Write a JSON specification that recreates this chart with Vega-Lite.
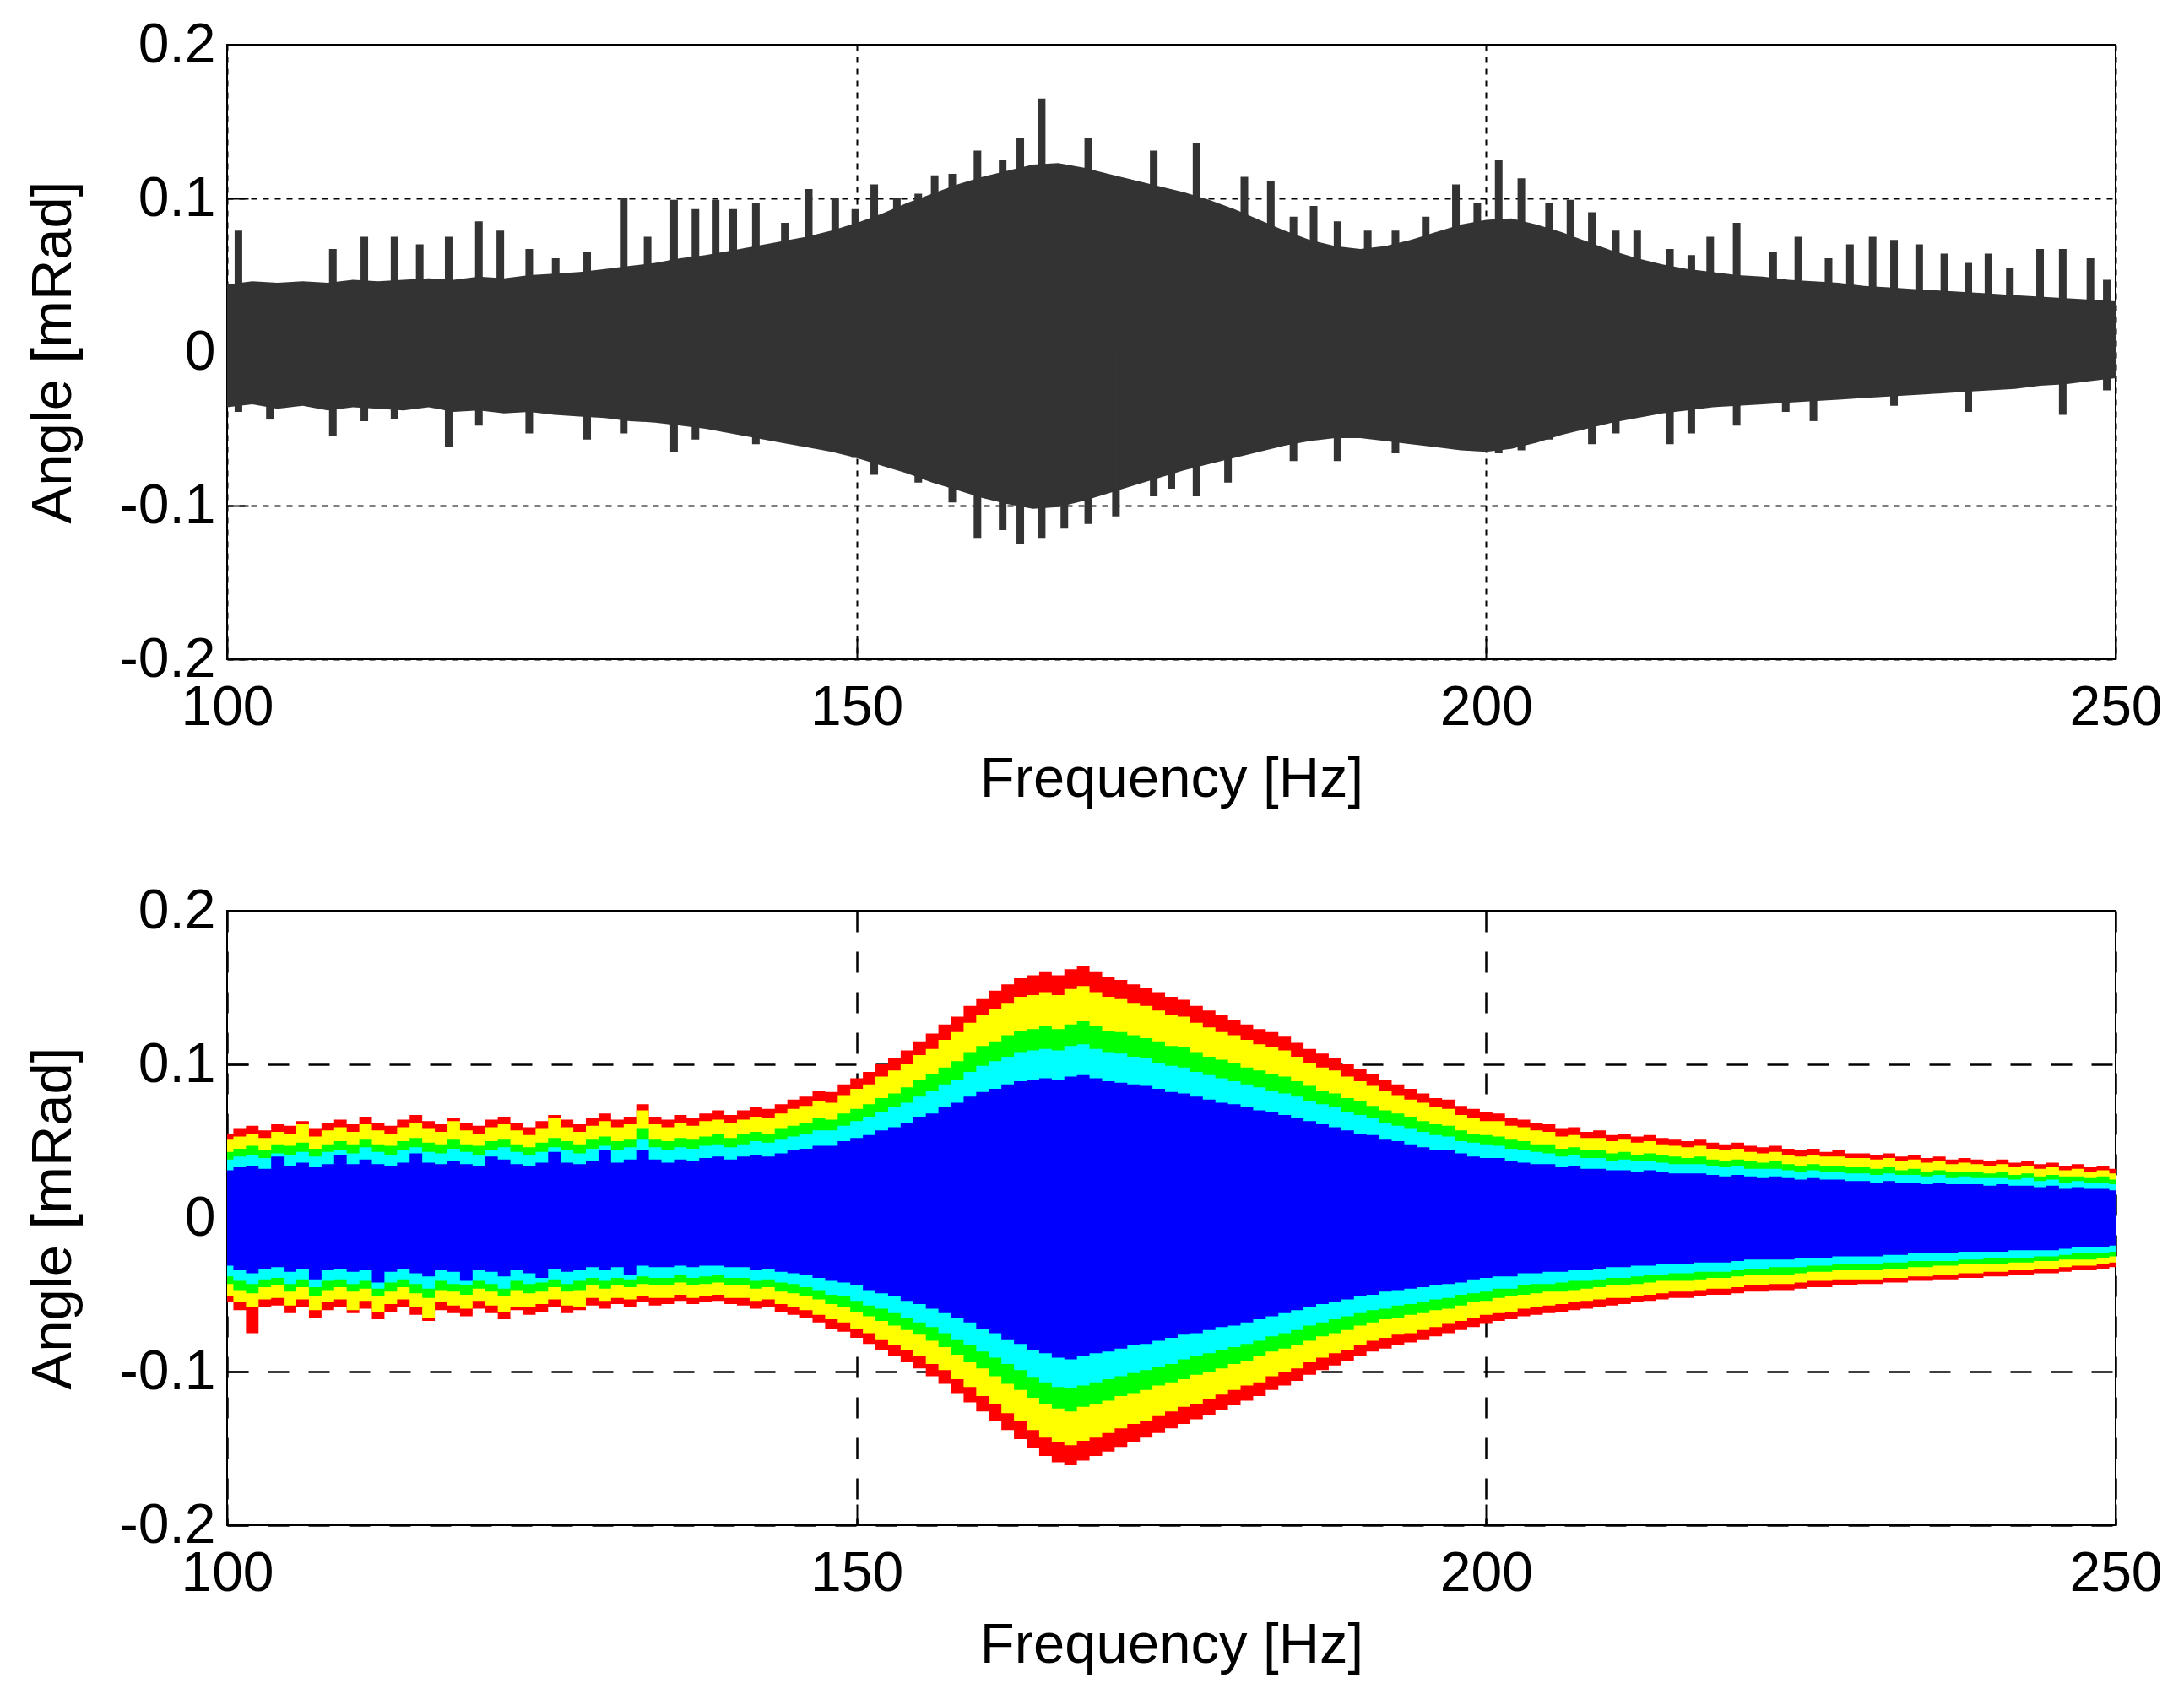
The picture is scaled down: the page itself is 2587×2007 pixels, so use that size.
{
"$schema": "https://vega.github.io/schema/vega-lite/v6.json",
"padding": {"left": 28, "top": 19, "right": 40, "bottom": 20},
"background": "white",
"config": {
 "font": "Liberation Sans",
 "view": {"stroke": "#000000", "strokeWidth": 2},
 "axis": {"labelFont": "Liberation Sans", "titleFont": "Liberation Sans", "labelFontSize": 66, "titleFontSize": 67, "titleFontWeight": "normal", "labelColor": "#000000", "titleColor": "#000000", "domain": false, "ticks": true, "tickSize": -25, "tickColor": "#000000", "tickWidth": 2, "gridColor": "#000000", "gridOpacity": 1, "labelOverlap": false}
},
"datasets": {
 "topEnv": [
  {"f":100,"hi":0.044,"lo":-0.036},{"f":102,"hi":0.046,"lo":-0.034},{"f":104,"hi":0.045,"lo":-0.037},{"f":106,"hi":0.046,"lo":-0.035},{"f":108,"hi":0.045,"lo":-0.038},{"f":110,"hi":0.047,"lo":-0.036},{"f":112,"hi":0.046,"lo":-0.037},{"f":114,"hi":0.047,"lo":-0.038},{"f":116,"hi":0.048,"lo":-0.036},{"f":118,"hi":0.047,"lo":-0.039},{"f":120,"hi":0.049,"lo":-0.038},{"f":122,"hi":0.048,"lo":-0.040},{"f":124,"hi":0.050,"lo":-0.039},{"f":126,"hi":0.051,"lo":-0.041},{"f":128,"hi":0.052,"lo":-0.042},{"f":130,"hi":0.054,"lo":-0.043},{"f":132,"hi":0.056,"lo":-0.045},{"f":134,"hi":0.058,"lo":-0.046},{"f":136,"hi":0.061,"lo":-0.048},{"f":138,"hi":0.063,"lo":-0.050},{"f":140,"hi":0.066,"lo":-0.053},{"f":142,"hi":0.069,"lo":-0.056},{"f":144,"hi":0.072,"lo":-0.059},{"f":146,"hi":0.075,"lo":-0.062},{"f":148,"hi":0.079,"lo":-0.065},{"f":150,"hi":0.084,"lo":-0.069},{"f":152,"hi":0.090,"lo":-0.074},{"f":154,"hi":0.097,"lo":-0.079},{"f":156,"hi":0.103,"lo":-0.085},{"f":158,"hi":0.109,"lo":-0.090},{"f":160,"hi":0.114,"lo":-0.095},{"f":162,"hi":0.118,"lo":-0.099},{"f":164,"hi":0.122,"lo":-0.102},{"f":166,"hi":0.123,"lo":-0.101},{"f":168,"hi":0.120,"lo":-0.097},{"f":170,"hi":0.116,"lo":-0.092},{"f":172,"hi":0.112,"lo":-0.087},{"f":174,"hi":0.108,"lo":-0.082},{"f":176,"hi":0.104,"lo":-0.077},{"f":178,"hi":0.099,"lo":-0.073},{"f":180,"hi":0.093,"lo":-0.069},{"f":182,"hi":0.086,"lo":-0.065},{"f":184,"hi":0.079,"lo":-0.061},{"f":186,"hi":0.073,"lo":-0.058},{"f":188,"hi":0.069,"lo":-0.056},{"f":190,"hi":0.067,"lo":-0.056},{"f":192,"hi":0.069,"lo":-0.058},{"f":194,"hi":0.073,"lo":-0.060},{"f":196,"hi":0.078,"lo":-0.062},{"f":198,"hi":0.083,"lo":-0.064},{"f":200,"hi":0.086,"lo":-0.065},{"f":202,"hi":0.087,"lo":-0.063},{"f":204,"hi":0.083,"lo":-0.059},{"f":206,"hi":0.078,"lo":-0.054},{"f":208,"hi":0.072,"lo":-0.050},{"f":210,"hi":0.066,"lo":-0.046},{"f":212,"hi":0.061,"lo":-0.043},{"f":214,"hi":0.057,"lo":-0.040},{"f":216,"hi":0.054,"lo":-0.038},{"f":218,"hi":0.052,"lo":-0.036},{"f":220,"hi":0.050,"lo":-0.035},{"f":222,"hi":0.049,"lo":-0.034},{"f":224,"hi":0.047,"lo":-0.033},{"f":226,"hi":0.046,"lo":-0.032},{"f":228,"hi":0.045,"lo":-0.031},{"f":230,"hi":0.043,"lo":-0.030},{"f":232,"hi":0.042,"lo":-0.029},{"f":234,"hi":0.041,"lo":-0.028},{"f":236,"hi":0.040,"lo":-0.027},{"f":238,"hi":0.039,"lo":-0.026},{"f":240,"hi":0.038,"lo":-0.025},{"f":242,"hi":0.037,"lo":-0.024},{"f":244,"hi":0.036,"lo":-0.022},{"f":246,"hi":0.035,"lo":-0.021},{"f":248,"hi":0.034,"lo":-0.019},{"f":250,"hi":0.033,"lo":-0.017}
 ],
 "topSpikes": [
  {"f":100.9,"hi":0.079,"lo":-0.039},{"f":103.4,"hi":0,"lo":-0.044},{"f":108.4,"hi":0.067,"lo":-0.055},{"f":110.9,"hi":0.075,"lo":-0.045},{"f":113.3,"hi":0.075,"lo":-0.044},{"f":115.3,"hi":0.070,"lo":0},{"f":117.6,"hi":0.075,"lo":-0.062},{"f":120.0,"hi":0.085,"lo":-0.048},{"f":121.7,"hi":0.079,"lo":0},{"f":124.0,"hi":0.067,"lo":-0.053},{"f":126.1,"hi":0.061,"lo":0},{"f":128.6,"hi":0.065,"lo":-0.057},{"f":131.5,"hi":0.100,"lo":-0.053},{"f":133.4,"hi":0.075,"lo":0},{"f":135.5,"hi":0.099,"lo":-0.065},{"f":137.2,"hi":0.093,"lo":-0.057},{"f":138.8,"hi":0.099,"lo":0},{"f":140.2,"hi":0.093,"lo":0},{"f":142.0,"hi":0.097,"lo":-0.060},{"f":144.3,"hi":0.084,"lo":0},{"f":146.2,"hi":0.106,"lo":-0.062},{"f":148.3,"hi":0.100,"lo":0},{"f":149.9,"hi":0.093,"lo":-0.069},{"f":151.4,"hi":0.109,"lo":-0.080},{"f":153.2,"hi":0.100,"lo":0},{"f":154.9,"hi":0.103,"lo":-0.085},{"f":156.2,"hi":0.115,"lo":0},{"f":157.6,"hi":0.116,"lo":-0.098},{"f":159.6,"hi":0.131,"lo":-0.121},{"f":161.6,"hi":0.125,"lo":-0.116},{"f":163.0,"hi":0.139,"lo":-0.125},{"f":164.7,"hi":0.165,"lo":-0.121},{"f":166.5,"hi":0,"lo":-0.115},{"f":168.4,"hi":0.139,"lo":-0.112},{"f":170.6,"hi":0,"lo":-0.107},{"f":173.6,"hi":0.131,"lo":-0.094},{"f":175.0,"hi":0,"lo":-0.089},{"f":177.0,"hi":0.136,"lo":-0.094},{"f":179.5,"hi":0,"lo":-0.085},{"f":180.8,"hi":0.114,"lo":0},{"f":182.9,"hi":0.111,"lo":0},{"f":184.7,"hi":0.088,"lo":-0.071},{"f":186.3,"hi":0.095,"lo":0},{"f":188.2,"hi":0.085,"lo":-0.071},{"f":190.6,"hi":0.079,"lo":0},{"f":192.8,"hi":0.079,"lo":-0.066},{"f":195.2,"hi":0.088,"lo":0},{"f":197.6,"hi":0.109,"lo":-0.060},{"f":199.3,"hi":0.097,"lo":0},{"f":201.0,"hi":0.125,"lo":-0.066},{"f":202.8,"hi":0.113,"lo":-0.064},{"f":205.0,"hi":0.097,"lo":-0.057},{"f":206.7,"hi":0.099,"lo":0},{"f":208.4,"hi":0.091,"lo":-0.060},{"f":210.3,"hi":0.079,"lo":-0.053},{"f":212.0,"hi":0.079,"lo":0},{"f":214.6,"hi":0.067,"lo":-0.060},{"f":216.3,"hi":0.063,"lo":-0.053},{"f":217.8,"hi":0.075,"lo":0},{"f":219.9,"hi":0.084,"lo":-0.048},{"f":222.8,"hi":0.065,"lo":0},{"f":223.8,"hi":0,"lo":-0.039},{"f":224.8,"hi":0.075,"lo":0},{"f":226.0,"hi":0,"lo":-0.045},{"f":227.2,"hi":0.061,"lo":0},{"f":228.9,"hi":0.070,"lo":0},{"f":230.7,"hi":0.075,"lo":0},{"f":232.4,"hi":0.073,"lo":-0.035},{"f":234.4,"hi":0.070,"lo":0},{"f":236.4,"hi":0.064,"lo":0},{"f":238.3,"hi":0.058,"lo":-0.039},{"f":239.9,"hi":0.064,"lo":0},{"f":241.6,"hi":0.055,"lo":0},{"f":244.0,"hi":0.067,"lo":0},{"f":245.8,"hi":0.067,"lo":-0.041},{"f":248.0,"hi":0.061,"lo":0},{"f":249.3,"hi":0.047,"lo":-0.025}
 ],
 "bot": [
  {"f":100,"r1":0.055,"r0":-0.055,"y1":0.051,"y0":-0.051,"g1":0.043,"g0":-0.043,"c1":0.038,"c0":-0.038,"b1":0.031,"b0":-0.031},
  {"f":101,"r1":0.058,"r0":-0.060,"y1":0.053,"y0":-0.055,"g1":0.045,"g0":-0.047,"c1":0.040,"c0":-0.041,"b1":0.033,"b0":-0.034},
  {"f":102,"r1":0.060,"r0":-0.075,"y1":0.055,"y0":-0.058,"g1":0.047,"g0":-0.049,"c1":0.041,"c0":-0.043,"b1":0.034,"b0":-0.036},
  {"f":103,"r1":0.057,"r0":-0.058,"y1":0.052,"y0":-0.053,"g1":0.044,"g0":-0.045,"c1":0.039,"c0":-0.040,"b1":0.032,"b0":-0.033},
  {"f":104,"r1":0.061,"r0":-0.057,"y1":0.056,"y0":-0.052,"g1":0.048,"g0":-0.044,"c1":0.042,"c0":-0.039,"b1":0.040,"b0":-0.032},
  {"f":105,"r1":0.060,"r0":-0.062,"y1":0.055,"y0":-0.057,"g1":0.047,"g0":-0.048,"c1":0.041,"c0":-0.043,"b1":0.034,"b0":-0.035},
  {"f":106,"r1":0.063,"r0":-0.058,"y1":0.061,"y0":-0.053,"g1":0.049,"g0":-0.045,"c1":0.043,"c0":-0.040,"b1":0.036,"b0":-0.033},
  {"f":107,"r1":0.058,"r0":-0.065,"y1":0.053,"y0":-0.060,"g1":0.045,"g0":-0.051,"c1":0.040,"c0":-0.045,"b1":0.033,"b0":-0.040},
  {"f":108,"r1":0.062,"r0":-0.060,"y1":0.057,"y0":-0.055,"g1":0.048,"g0":-0.047,"c1":0.043,"c0":-0.041,"b1":0.035,"b0":-0.034},
  {"f":109,"r1":0.064,"r0":-0.058,"y1":0.059,"y0":-0.053,"g1":0.050,"g0":-0.045,"c1":0.044,"c0":-0.040,"b1":0.041,"b0":-0.033},
  {"f":110,"r1":0.061,"r0":-0.062,"y1":0.056,"y0":-0.060,"g1":0.048,"g0":-0.048,"c1":0.042,"c0":-0.043,"b1":0.035,"b0":-0.035},
  {"f":111,"r1":0.066,"r0":-0.059,"y1":0.061,"y0":-0.054,"g1":0.051,"g0":-0.046,"c1":0.046,"c0":-0.041,"b1":0.038,"b0":-0.034},
  {"f":112,"r1":0.062,"r0":-0.066,"y1":0.057,"y0":-0.061,"g1":0.048,"g0":-0.051,"c1":0.043,"c0":-0.046,"b1":0.035,"b0":-0.042},
  {"f":113,"r1":0.060,"r0":-0.061,"y1":0.055,"y0":-0.056,"g1":0.047,"g0":-0.048,"c1":0.041,"c0":-0.042,"b1":0.034,"b0":-0.035},
  {"f":114,"r1":0.064,"r0":-0.058,"y1":0.059,"y0":-0.053,"g1":0.050,"g0":-0.045,"c1":0.044,"c0":-0.040,"b1":0.036,"b0":-0.033},
  {"f":115,"r1":0.067,"r0":-0.063,"y1":0.062,"y0":-0.058,"g1":0.052,"g0":-0.049,"c1":0.046,"c0":-0.043,"b1":0.042,"b0":-0.036},
  {"f":116,"r1":0.063,"r0":-0.067,"y1":0.058,"y0":-0.065,"g1":0.049,"g0":-0.052,"c1":0.043,"c0":-0.046,"b1":0.036,"b0":-0.038},
  {"f":117,"r1":0.061,"r0":-0.060,"y1":0.056,"y0":-0.055,"g1":0.048,"g0":-0.047,"c1":0.042,"c0":-0.041,"b1":0.035,"b0":-0.034},
  {"f":118,"r1":0.065,"r0":-0.062,"y1":0.063,"y0":-0.057,"g1":0.051,"g0":-0.048,"c1":0.045,"c0":-0.043,"b1":0.037,"b0":-0.035},
  {"f":119,"r1":0.062,"r0":-0.064,"y1":0.057,"y0":-0.059,"g1":0.048,"g0":-0.050,"c1":0.043,"c0":-0.044,"b1":0.035,"b0":-0.041},
  {"f":120,"r1":0.060,"r0":-0.059,"y1":0.055,"y0":-0.054,"g1":0.047,"g0":-0.046,"c1":0.041,"c0":-0.041,"b1":0.034,"b0":-0.034},
  {"f":121,"r1":0.064,"r0":-0.062,"y1":0.059,"y0":-0.057,"g1":0.050,"g0":-0.048,"c1":0.044,"c0":-0.043,"b1":0.040,"b0":-0.035},
  {"f":122,"r1":0.066,"r0":-0.066,"y1":0.061,"y0":-0.061,"g1":0.051,"g0":-0.051,"c1":0.046,"c0":-0.046,"b1":0.038,"b0":-0.038},
  {"f":123,"r1":0.062,"r0":-0.060,"y1":0.057,"y0":-0.058,"g1":0.048,"g0":-0.047,"c1":0.043,"c0":-0.041,"b1":0.035,"b0":-0.034},
  {"f":124,"r1":0.059,"r0":-0.063,"y1":0.054,"y0":-0.058,"g1":0.046,"g0":-0.049,"c1":0.041,"c0":-0.043,"b1":0.034,"b0":-0.036},
  {"f":125,"r1":0.063,"r0":-0.061,"y1":0.058,"y0":-0.056,"g1":0.049,"g0":-0.048,"c1":0.043,"c0":-0.042,"b1":0.036,"b0":-0.039},
  {"f":126,"r1":0.067,"r0":-0.058,"y1":0.065,"y0":-0.053,"g1":0.052,"g0":-0.045,"c1":0.046,"c0":-0.040,"b1":0.043,"b0":-0.033},
  {"f":127,"r1":0.064,"r0":-0.062,"y1":0.059,"y0":-0.057,"g1":0.050,"g0":-0.048,"c1":0.044,"c0":-0.043,"b1":0.036,"b0":-0.035},
  {"f":128,"r1":0.061,"r0":-0.060,"y1":0.056,"y0":-0.058,"g1":0.048,"g0":-0.047,"c1":0.042,"c0":-0.041,"b1":0.035,"b0":-0.034},
  {"f":129,"r1":0.065,"r0":-0.057,"y1":0.060,"y0":-0.052,"g1":0.051,"g0":-0.044,"c1":0.045,"c0":-0.039,"b1":0.037,"b0":-0.032},
  {"f":130,"r1":0.068,"r0":-0.059,"y1":0.063,"y0":-0.054,"g1":0.053,"g0":-0.046,"c1":0.047,"c0":-0.041,"b1":0.044,"b0":-0.034},
  {"f":131,"r1":0.064,"r0":-0.056,"y1":0.059,"y0":-0.052,"g1":0.050,"g0":-0.044,"c1":0.044,"c0":-0.039,"b1":0.036,"b0":-0.032},
  {"f":132,"r1":0.066,"r0":-0.058,"y1":0.061,"y0":-0.053,"g1":0.051,"g0":-0.045,"c1":0.046,"c0":-0.040,"b1":0.038,"b0":-0.037},
  {"f":133,"r1":0.074,"r0":-0.055,"y1":0.070,"y0":-0.051,"g1":0.058,"g0":-0.043,"c1":0.051,"c0":-0.038,"b1":0.044,"b0":-0.031},
  {"f":134,"r1":0.066,"r0":-0.057,"y1":0.061,"y0":-0.052,"g1":0.051,"g0":-0.044,"c1":0.046,"c0":-0.039,"b1":0.038,"b0":-0.032},
  {"f":135,"r1":0.064,"r0":-0.056,"y1":0.059,"y0":-0.052,"g1":0.050,"g0":-0.044,"c1":0.044,"c0":-0.039,"b1":0.036,"b0":-0.032},
  {"f":136,"r1":0.067,"r0":-0.054,"y1":0.062,"y0":-0.050,"g1":0.052,"g0":-0.042,"c1":0.046,"c0":-0.037,"b1":0.038,"b0":-0.031},
  {"f":137,"r1":0.065,"r0":-0.056,"y1":0.060,"y0":-0.052,"g1":0.051,"g0":-0.044,"c1":0.045,"c0":-0.039,"b1":0.037,"b0":-0.032},
  {"f":138,"r1":0.068,"r0":-0.055,"y1":0.063,"y0":-0.051,"g1":0.053,"g0":-0.043,"c1":0.047,"c0":-0.038,"b1":0.039,"b0":-0.031},
  {"f":139,"r1":0.070,"r0":-0.054,"y1":0.064,"y0":-0.050,"g1":0.055,"g0":-0.042,"c1":0.048,"c0":-0.037,"b1":0.040,"b0":-0.031},
  {"f":140,"r1":0.067,"r0":-0.056,"y1":0.062,"y0":-0.052,"g1":0.052,"g0":-0.044,"c1":0.046,"c0":-0.039,"b1":0.038,"b0":-0.032},
  {"f":141,"r1":0.070,"r0":-0.057,"y1":0.064,"y0":-0.052,"g1":0.055,"g0":-0.044,"c1":0.048,"c0":-0.039,"b1":0.040,"b0":-0.032},
  {"f":142,"r1":0.072,"r0":-0.059,"y1":0.066,"y0":-0.054,"g1":0.056,"g0":-0.046,"c1":0.050,"c0":-0.041,"b1":0.041,"b0":-0.034},
  {"f":143,"r1":0.071,"r0":-0.058,"y1":0.065,"y0":-0.053,"g1":0.055,"g0":-0.045,"c1":0.049,"c0":-0.040,"b1":0.040,"b0":-0.033},
  {"f":144,"r1":0.074,"r0":-0.061,"y1":0.068,"y0":-0.056,"g1":0.058,"g0":-0.048,"c1":0.051,"c0":-0.042,"b1":0.042,"b0":-0.035},
  {"f":145,"r1":0.077,"r0":-0.063,"y1":0.071,"y0":-0.058,"g1":0.060,"g0":-0.049,"c1":0.053,"c0":-0.043,"b1":0.044,"b0":-0.036},
  {"f":146,"r1":0.079,"r0":-0.065,"y1":0.073,"y0":-0.060,"g1":0.062,"g0":-0.051,"c1":0.055,"c0":-0.045,"b1":0.045,"b0":-0.037},
  {"f":147,"r1":0.083,"r0":-0.068,"y1":0.076,"y0":-0.063,"g1":0.065,"g0":-0.053,"c1":0.057,"c0":-0.047,"b1":0.047,"b0":-0.039},
  {"f":148,"r1":0.082,"r0":-0.072,"y1":0.075,"y0":-0.066,"g1":0.064,"g0":-0.056,"c1":0.057,"c0":-0.050,"b1":0.047,"b0":-0.041},
  {"f":149,"r1":0.087,"r0":-0.074,"y1":0.080,"y0":-0.068,"g1":0.068,"g0":-0.058,"c1":0.060,"c0":-0.051,"b1":0.050,"b0":-0.042},
  {"f":150,"r1":0.091,"r0":-0.078,"y1":0.084,"y0":-0.072,"g1":0.071,"g0":-0.061,"c1":0.063,"c0":-0.054,"b1":0.052,"b0":-0.044},
  {"f":151,"r1":0.095,"r0":-0.082,"y1":0.087,"y0":-0.075,"g1":0.074,"g0":-0.064,"c1":0.066,"c0":-0.057,"b1":0.054,"b0":-0.047},
  {"f":152,"r1":0.100,"r0":-0.086,"y1":0.092,"y0":-0.079,"g1":0.078,"g0":-0.067,"c1":0.069,"c0":-0.059,"b1":0.057,"b0":-0.049},
  {"f":153,"r1":0.104,"r0":-0.090,"y1":0.096,"y0":-0.083,"g1":0.081,"g0":-0.070,"c1":0.072,"c0":-0.062,"b1":0.059,"b0":-0.051},
  {"f":154,"r1":0.109,"r0":-0.094,"y1":0.100,"y0":-0.086,"g1":0.085,"g0":-0.073,"c1":0.075,"c0":-0.065,"b1":0.062,"b0":-0.054},
  {"f":155,"r1":0.115,"r0":-0.098,"y1":0.106,"y0":-0.090,"g1":0.090,"g0":-0.076,"c1":0.079,"c0":-0.068,"b1":0.066,"b0":-0.056},
  {"f":156,"r1":0.120,"r0":-0.103,"y1":0.110,"y0":-0.095,"g1":0.094,"g0":-0.080,"c1":0.083,"c0":-0.071,"b1":0.068,"b0":-0.059},
  {"f":157,"r1":0.126,"r0":-0.108,"y1":0.116,"y0":-0.099,"g1":0.098,"g0":-0.084,"c1":0.087,"c0":-0.075,"b1":0.072,"b0":-0.062},
  {"f":158,"r1":0.131,"r0":-0.114,"y1":0.121,"y0":-0.105,"g1":0.102,"g0":-0.089,"c1":0.090,"c0":-0.079,"b1":0.075,"b0":-0.065},
  {"f":159,"r1":0.138,"r0":-0.120,"y1":0.127,"y0":-0.110,"g1":0.108,"g0":-0.094,"c1":0.095,"c0":-0.083,"b1":0.079,"b0":-0.068},
  {"f":160,"r1":0.143,"r0":-0.126,"y1":0.132,"y0":-0.116,"g1":0.112,"g0":-0.098,"c1":0.099,"c0":-0.087,"b1":0.082,"b0":-0.072},
  {"f":161,"r1":0.148,"r0":-0.132,"y1":0.136,"y0":-0.121,"g1":0.115,"g0":-0.103,"c1":0.102,"c0":-0.091,"b1":0.084,"b0":-0.075},
  {"f":162,"r1":0.152,"r0":-0.138,"y1":0.140,"y0":-0.127,"g1":0.119,"g0":-0.108,"c1":0.105,"c0":-0.095,"b1":0.087,"b0":-0.079},
  {"f":163,"r1":0.156,"r0":-0.144,"y1":0.144,"y0":-0.132,"g1":0.122,"g0":-0.112,"c1":0.108,"c0":-0.099,"b1":0.089,"b0":-0.082},
  {"f":164,"r1":0.158,"r0":-0.150,"y1":0.145,"y0":-0.138,"g1":0.123,"g0":-0.117,"c1":0.109,"c0":-0.104,"b1":0.090,"b0":-0.086},
  {"f":165,"r1":0.160,"r0":-0.155,"y1":0.147,"y0":-0.143,"g1":0.125,"g0":-0.121,"c1":0.110,"c0":-0.107,"b1":0.091,"b0":-0.088},
  {"f":166,"r1":0.158,"r0":-0.159,"y1":0.145,"y0":-0.146,"g1":0.123,"g0":-0.124,"c1":0.109,"c0":-0.110,"b1":0.090,"b0":-0.091},
  {"f":167,"r1":0.162,"r0":-0.161,"y1":0.149,"y0":-0.148,"g1":0.126,"g0":-0.126,"c1":0.112,"c0":-0.111,"b1":0.092,"b0":-0.092},
  {"f":168,"r1":0.164,"r0":-0.158,"y1":0.151,"y0":-0.145,"g1":0.128,"g0":-0.123,"c1":0.113,"c0":-0.109,"b1":0.093,"b0":-0.090},
  {"f":169,"r1":0.160,"r0":-0.155,"y1":0.147,"y0":-0.143,"g1":0.125,"g0":-0.121,"c1":0.110,"c0":-0.107,"b1":0.091,"b0":-0.088},
  {"f":170,"r1":0.157,"r0":-0.152,"y1":0.144,"y0":-0.140,"g1":0.122,"g0":-0.119,"c1":0.108,"c0":-0.105,"b1":0.089,"b0":-0.087},
  {"f":171,"r1":0.155,"r0":-0.149,"y1":0.143,"y0":-0.137,"g1":0.121,"g0":-0.116,"c1":0.107,"c0":-0.103,"b1":0.088,"b0":-0.085},
  {"f":172,"r1":0.152,"r0":-0.146,"y1":0.140,"y0":-0.134,"g1":0.119,"g0":-0.114,"c1":0.105,"c0":-0.101,"b1":0.087,"b0":-0.083},
  {"f":173,"r1":0.150,"r0":-0.143,"y1":0.138,"y0":-0.132,"g1":0.117,"g0":-0.112,"c1":0.104,"c0":-0.099,"b1":0.086,"b0":-0.082},
  {"f":174,"r1":0.147,"r0":-0.140,"y1":0.135,"y0":-0.129,"g1":0.115,"g0":-0.109,"c1":0.101,"c0":-0.097,"b1":0.084,"b0":-0.080},
  {"f":175,"r1":0.144,"r0":-0.137,"y1":0.132,"y0":-0.126,"g1":0.112,"g0":-0.107,"c1":0.099,"c0":-0.095,"b1":0.082,"b0":-0.078},
  {"f":176,"r1":0.142,"r0":-0.134,"y1":0.131,"y0":-0.123,"g1":0.111,"g0":-0.105,"c1":0.098,"c0":-0.092,"b1":0.081,"b0":-0.076},
  {"f":177,"r1":0.138,"r0":-0.131,"y1":0.127,"y0":-0.121,"g1":0.108,"g0":-0.102,"c1":0.095,"c0":-0.090,"b1":0.079,"b0":-0.075},
  {"f":178,"r1":0.135,"r0":-0.128,"y1":0.124,"y0":-0.118,"g1":0.105,"g0":-0.100,"c1":0.093,"c0":-0.088,"b1":0.077,"b0":-0.073},
  {"f":179,"r1":0.132,"r0":-0.125,"y1":0.121,"y0":-0.115,"g1":0.103,"g0":-0.098,"c1":0.091,"c0":-0.086,"b1":0.075,"b0":-0.071},
  {"f":180,"r1":0.129,"r0":-0.122,"y1":0.119,"y0":-0.112,"g1":0.101,"g0":-0.095,"c1":0.089,"c0":-0.084,"b1":0.074,"b0":-0.070},
  {"f":181,"r1":0.126,"r0":-0.119,"y1":0.116,"y0":-0.109,"g1":0.098,"g0":-0.093,"c1":0.087,"c0":-0.082,"b1":0.072,"b0":-0.068},
  {"f":182,"r1":0.123,"r0":-0.116,"y1":0.113,"y0":-0.107,"g1":0.096,"g0":-0.090,"c1":0.085,"c0":-0.080,"b1":0.070,"b0":-0.066},
  {"f":183,"r1":0.121,"r0":-0.112,"y1":0.111,"y0":-0.103,"g1":0.094,"g0":-0.087,"c1":0.083,"c0":-0.077,"b1":0.069,"b0":-0.064},
  {"f":184,"r1":0.118,"r0":-0.109,"y1":0.109,"y0":-0.100,"g1":0.092,"g0":-0.085,"c1":0.081,"c0":-0.075,"b1":0.067,"b0":-0.062},
  {"f":185,"r1":0.114,"r0":-0.106,"y1":0.105,"y0":-0.098,"g1":0.089,"g0":-0.083,"c1":0.079,"c0":-0.073,"b1":0.065,"b0":-0.060},
  {"f":186,"r1":0.110,"r0":-0.102,"y1":0.101,"y0":-0.094,"g1":0.086,"g0":-0.080,"c1":0.076,"c0":-0.070,"b1":0.063,"b0":-0.058},
  {"f":187,"r1":0.107,"r0":-0.099,"y1":0.098,"y0":-0.091,"g1":0.083,"g0":-0.077,"c1":0.074,"c0":-0.068,"b1":0.061,"b0":-0.056},
  {"f":188,"r1":0.104,"r0":-0.096,"y1":0.096,"y0":-0.088,"g1":0.081,"g0":-0.075,"c1":0.072,"c0":-0.066,"b1":0.059,"b0":-0.055},
  {"f":189,"r1":0.100,"r0":-0.093,"y1":0.092,"y0":-0.086,"g1":0.078,"g0":-0.073,"c1":0.069,"c0":-0.064,"b1":0.057,"b0":-0.053},
  {"f":190,"r1":0.097,"r0":-0.090,"y1":0.089,"y0":-0.083,"g1":0.076,"g0":-0.070,"c1":0.067,"c0":-0.062,"b1":0.055,"b0":-0.051},
  {"f":191,"r1":0.094,"r0":-0.087,"y1":0.086,"y0":-0.080,"g1":0.073,"g0":-0.068,"c1":0.065,"c0":-0.060,"b1":0.054,"b0":-0.050},
  {"f":192,"r1":0.090,"r0":-0.085,"y1":0.083,"y0":-0.078,"g1":0.070,"g0":-0.066,"c1":0.062,"c0":-0.059,"b1":0.051,"b0":-0.048},
  {"f":193,"r1":0.087,"r0":-0.083,"y1":0.080,"y0":-0.076,"g1":0.068,"g0":-0.065,"c1":0.060,"c0":-0.057,"b1":0.050,"b0":-0.047},
  {"f":194,"r1":0.084,"r0":-0.081,"y1":0.077,"y0":-0.075,"g1":0.066,"g0":-0.063,"c1":0.058,"c0":-0.056,"b1":0.048,"b0":-0.046},
  {"f":195,"r1":0.081,"r0":-0.079,"y1":0.075,"y0":-0.073,"g1":0.063,"g0":-0.062,"c1":0.056,"c0":-0.055,"b1":0.046,"b0":-0.045},
  {"f":196,"r1":0.078,"r0":-0.077,"y1":0.072,"y0":-0.071,"g1":0.061,"g0":-0.060,"c1":0.054,"c0":-0.053,"b1":0.044,"b0":-0.044},
  {"f":197,"r1":0.077,"r0":-0.075,"y1":0.071,"y0":-0.069,"g1":0.060,"g0":-0.059,"c1":0.053,"c0":-0.052,"b1":0.044,"b0":-0.043},
  {"f":198,"r1":0.073,"r0":-0.073,"y1":0.067,"y0":-0.067,"g1":0.057,"g0":-0.057,"c1":0.050,"c0":-0.050,"b1":0.042,"b0":-0.042},
  {"f":199,"r1":0.071,"r0":-0.071,"y1":0.065,"y0":-0.065,"g1":0.055,"g0":-0.055,"c1":0.049,"c0":-0.049,"b1":0.040,"b0":-0.040},
  {"f":200,"r1":0.069,"r0":-0.069,"y1":0.063,"y0":-0.063,"g1":0.054,"g0":-0.054,"c1":0.048,"c0":-0.048,"b1":0.039,"b0":-0.039},
  {"f":201,"r1":0.068,"r0":-0.067,"y1":0.063,"y0":-0.062,"g1":0.053,"g0":-0.052,"c1":0.047,"c0":-0.046,"b1":0.039,"b0":-0.038},
  {"f":202,"r1":0.065,"r0":-0.066,"y1":0.060,"y0":-0.061,"g1":0.051,"g0":-0.051,"c1":0.045,"c0":-0.046,"b1":0.037,"b0":-0.038},
  {"f":203,"r1":0.064,"r0":-0.064,"y1":0.059,"y0":-0.059,"g1":0.050,"g0":-0.050,"c1":0.044,"c0":-0.044,"b1":0.036,"b0":-0.036},
  {"f":204,"r1":0.062,"r0":-0.063,"y1":0.057,"y0":-0.058,"g1":0.048,"g0":-0.049,"c1":0.043,"c0":-0.043,"b1":0.035,"b0":-0.036},
  {"f":205,"r1":0.061,"r0":-0.062,"y1":0.056,"y0":-0.057,"g1":0.048,"g0":-0.048,"c1":0.042,"c0":-0.043,"b1":0.035,"b0":-0.035},
  {"f":206,"r1":0.058,"r0":-0.061,"y1":0.053,"y0":-0.056,"g1":0.045,"g0":-0.048,"c1":0.040,"c0":-0.042,"b1":0.033,"b0":-0.035},
  {"f":207,"r1":0.059,"r0":-0.060,"y1":0.054,"y0":-0.055,"g1":0.046,"g0":-0.047,"c1":0.041,"c0":-0.041,"b1":0.034,"b0":-0.034},
  {"f":208,"r1":0.056,"r0":-0.059,"y1":0.052,"y0":-0.054,"g1":0.044,"g0":-0.046,"c1":0.039,"c0":-0.041,"b1":0.032,"b0":-0.034},
  {"f":209,"r1":0.057,"r0":-0.058,"y1":0.052,"y0":-0.053,"g1":0.044,"g0":-0.045,"c1":0.039,"c0":-0.040,"b1":0.032,"b0":-0.033},
  {"f":210,"r1":0.054,"r0":-0.057,"y1":0.050,"y0":-0.052,"g1":0.042,"g0":-0.044,"c1":0.037,"c0":-0.039,"b1":0.031,"b0":-0.032},
  {"f":211,"r1":0.055,"r0":-0.056,"y1":0.051,"y0":-0.052,"g1":0.043,"g0":-0.044,"c1":0.038,"c0":-0.039,"b1":0.031,"b0":-0.032},
  {"f":212,"r1":0.053,"r0":-0.055,"y1":0.049,"y0":-0.051,"g1":0.041,"g0":-0.043,"c1":0.037,"c0":-0.038,"b1":0.030,"b0":-0.031},
  {"f":213,"r1":0.054,"r0":-0.054,"y1":0.050,"y0":-0.050,"g1":0.042,"g0":-0.042,"c1":0.037,"c0":-0.037,"b1":0.031,"b0":-0.031},
  {"f":214,"r1":0.052,"r0":-0.053,"y1":0.048,"y0":-0.049,"g1":0.041,"g0":-0.041,"c1":0.036,"c0":-0.037,"b1":0.030,"b0":-0.030},
  {"f":215,"r1":0.051,"r0":-0.052,"y1":0.047,"y0":-0.048,"g1":0.040,"g0":-0.041,"c1":0.035,"c0":-0.036,"b1":0.029,"b0":-0.030},
  {"f":216,"r1":0.050,"r0":-0.052,"y1":0.046,"y0":-0.048,"g1":0.039,"g0":-0.041,"c1":0.035,"c0":-0.036,"b1":0.029,"b0":-0.030},
  {"f":217,"r1":0.051,"r0":-0.051,"y1":0.047,"y0":-0.047,"g1":0.040,"g0":-0.040,"c1":0.035,"c0":-0.035,"b1":0.029,"b0":-0.029},
  {"f":218,"r1":0.049,"r0":-0.050,"y1":0.045,"y0":-0.046,"g1":0.038,"g0":-0.039,"c1":0.034,"c0":-0.035,"b1":0.028,"b0":-0.029},
  {"f":219,"r1":0.048,"r0":-0.050,"y1":0.044,"y0":-0.046,"g1":0.037,"g0":-0.039,"c1":0.033,"c0":-0.035,"b1":0.027,"b0":-0.029},
  {"f":220,"r1":0.049,"r0":-0.049,"y1":0.045,"y0":-0.045,"g1":0.038,"g0":-0.038,"c1":0.034,"c0":-0.034,"b1":0.028,"b0":-0.028},
  {"f":221,"r1":0.047,"r0":-0.048,"y1":0.043,"y0":-0.044,"g1":0.037,"g0":-0.037,"c1":0.032,"c0":-0.033,"b1":0.027,"b0":-0.027},
  {"f":222,"r1":0.046,"r0":-0.048,"y1":0.042,"y0":-0.044,"g1":0.036,"g0":-0.037,"c1":0.032,"c0":-0.033,"b1":0.026,"b0":-0.027},
  {"f":223,"r1":0.047,"r0":-0.047,"y1":0.043,"y0":-0.043,"g1":0.037,"g0":-0.037,"c1":0.032,"c0":-0.032,"b1":0.027,"b0":-0.027},
  {"f":224,"r1":0.045,"r0":-0.047,"y1":0.041,"y0":-0.043,"g1":0.035,"g0":-0.037,"c1":0.031,"c0":-0.032,"b1":0.026,"b0":-0.027},
  {"f":225,"r1":0.044,"r0":-0.046,"y1":0.040,"y0":-0.042,"g1":0.034,"g0":-0.036,"c1":0.030,"c0":-0.032,"b1":0.025,"b0":-0.026},
  {"f":226,"r1":0.045,"r0":-0.045,"y1":0.041,"y0":-0.041,"g1":0.035,"g0":-0.035,"c1":0.031,"c0":-0.031,"b1":0.026,"b0":-0.026},
  {"f":227,"r1":0.043,"r0":-0.045,"y1":0.040,"y0":-0.041,"g1":0.034,"g0":-0.035,"c1":0.030,"c0":-0.031,"b1":0.025,"b0":-0.026},
  {"f":228,"r1":0.044,"r0":-0.044,"y1":0.040,"y0":-0.040,"g1":0.034,"g0":-0.034,"c1":0.030,"c0":-0.030,"b1":0.025,"b0":-0.025},
  {"f":229,"r1":0.042,"r0":-0.044,"y1":0.039,"y0":-0.040,"g1":0.033,"g0":-0.034,"c1":0.029,"c0":-0.030,"b1":0.024,"b0":-0.025},
  {"f":230,"r1":0.042,"r0":-0.043,"y1":0.039,"y0":-0.040,"g1":0.033,"g0":-0.034,"c1":0.029,"c0":-0.030,"b1":0.024,"b0":-0.025},
  {"f":231,"r1":0.041,"r0":-0.043,"y1":0.038,"y0":-0.040,"g1":0.032,"g0":-0.034,"c1":0.028,"c0":-0.030,"b1":0.023,"b0":-0.025},
  {"f":232,"r1":0.042,"r0":-0.042,"y1":0.039,"y0":-0.039,"g1":0.033,"g0":-0.033,"c1":0.029,"c0":-0.029,"b1":0.024,"b0":-0.024},
  {"f":233,"r1":0.040,"r0":-0.042,"y1":0.037,"y0":-0.039,"g1":0.031,"g0":-0.033,"c1":0.028,"c0":-0.029,"b1":0.023,"b0":-0.024},
  {"f":234,"r1":0.041,"r0":-0.041,"y1":0.038,"y0":-0.038,"g1":0.032,"g0":-0.032,"c1":0.028,"c0":-0.028,"b1":0.023,"b0":-0.023},
  {"f":235,"r1":0.039,"r0":-0.041,"y1":0.036,"y0":-0.038,"g1":0.030,"g0":-0.032,"c1":0.027,"c0":-0.028,"b1":0.022,"b0":-0.023},
  {"f":236,"r1":0.040,"r0":-0.040,"y1":0.037,"y0":-0.037,"g1":0.031,"g0":-0.031,"c1":0.028,"c0":-0.028,"b1":0.023,"b0":-0.023},
  {"f":237,"r1":0.038,"r0":-0.040,"y1":0.035,"y0":-0.037,"g1":0.030,"g0":-0.031,"c1":0.026,"c0":-0.028,"b1":0.022,"b0":-0.023},
  {"f":238,"r1":0.039,"r0":-0.039,"y1":0.036,"y0":-0.036,"g1":0.030,"g0":-0.030,"c1":0.027,"c0":-0.027,"b1":0.022,"b0":-0.022},
  {"f":239,"r1":0.038,"r0":-0.039,"y1":0.035,"y0":-0.036,"g1":0.030,"g0":-0.030,"c1":0.026,"c0":-0.027,"b1":0.022,"b0":-0.022},
  {"f":240,"r1":0.037,"r0":-0.038,"y1":0.034,"y0":-0.035,"g1":0.029,"g0":-0.030,"c1":0.026,"c0":-0.026,"b1":0.021,"b0":-0.022},
  {"f":241,"r1":0.038,"r0":-0.038,"y1":0.035,"y0":-0.035,"g1":0.030,"g0":-0.030,"c1":0.026,"c0":-0.026,"b1":0.022,"b0":-0.022},
  {"f":242,"r1":0.036,"r0":-0.037,"y1":0.033,"y0":-0.034,"g1":0.028,"g0":-0.029,"c1":0.025,"c0":-0.026,"b1":0.021,"b0":-0.021},
  {"f":243,"r1":0.037,"r0":-0.037,"y1":0.034,"y0":-0.034,"g1":0.029,"g0":-0.029,"c1":0.026,"c0":-0.026,"b1":0.021,"b0":-0.021},
  {"f":244,"r1":0.035,"r0":-0.036,"y1":0.032,"y0":-0.033,"g1":0.027,"g0":-0.028,"c1":0.024,"c0":-0.025,"b1":0.020,"b0":-0.021},
  {"f":245,"r1":0.036,"r0":-0.036,"y1":0.033,"y0":-0.033,"g1":0.028,"g0":-0.028,"c1":0.025,"c0":-0.025,"b1":0.021,"b0":-0.021},
  {"f":246,"r1":0.034,"r0":-0.035,"y1":0.031,"y0":-0.032,"g1":0.027,"g0":-0.027,"c1":0.023,"c0":-0.024,"b1":0.019,"b0":-0.020},
  {"f":247,"r1":0.035,"r0":-0.034,"y1":0.032,"y0":-0.031,"g1":0.027,"g0":-0.027,"c1":0.024,"c0":-0.023,"b1":0.020,"b0":-0.019},
  {"f":248,"r1":0.033,"r0":-0.034,"y1":0.030,"y0":-0.031,"g1":0.026,"g0":-0.027,"c1":0.023,"c0":-0.023,"b1":0.019,"b0":-0.019},
  {"f":249,"r1":0.034,"r0":-0.033,"y1":0.031,"y0":-0.030,"g1":0.027,"g0":-0.026,"c1":0.023,"c0":-0.023,"b1":0.019,"b0":-0.019},
  {"f":250,"r1":0.032,"r0":-0.032,"y1":0.029,"y0":-0.029,"g1":0.025,"g0":-0.025,"c1":0.022,"c0":-0.022,"b1":0.018,"b0":-0.018}
 ]
},
"spacing": 88,
"vconcat": [
 {
  "width": 2237, "height": 728,
  "layer": [
   {"data": {"name": "topEnv"},
    "mark": {"type": "area", "color": "#333333", "interpolate": "linear"},
    "encoding": {
     "x": {"field": "f", "type": "quantitative", "scale": {"domain": [100, 250], "nice": false, "zero": false},
       "axis": {"values": [100, 150, 200, 250], "title": "Frequency [Hz]", "labelPadding": 50, "labelFlush": false, "format": "d", "gridDash": [7, 7], "gridWidth": 2, "titleY": 109, "titleBaseline": "top"}},
     "y": {"field": "hi", "type": "quantitative", "scale": {"domain": [-0.2, 0.2], "nice": false, "zero": false},
       "axis": {"values": [-0.2, -0.1, 0, 0.1, 0.2], "title": "Angle [mRad]", "labelPadding": 39, "labelExpr": "datum.value == 0 ? '0' : (datum.value < 0 ? '-' + format(-datum.value, '.1f') : format(datum.value, '.1f'))", "gridDash": [7, 7], "gridWidth": 2, "titleX": -186, "titleBaseline": "alphabetic"}},
     "y2": {"field": "lo"}
    }},
   {"data": {"name": "topSpikes"},
    "mark": {"type": "rule", "color": "#333333", "strokeWidth": 9},
    "encoding": {
     "x": {"field": "f", "type": "quantitative"},
     "y": {"field": "lo", "type": "quantitative"},
     "y2": {"field": "hi"}
    }}
  ]
 },
 {
  "width": 2237, "height": 728,
  "data": {"name": "bot"},
  "encoding": {
   "x": {"field": "f", "type": "quantitative", "scale": {"domain": [100, 250], "nice": false, "zero": false},
     "axis": {"values": [100, 150, 200, 250], "title": "Frequency [Hz]", "labelPadding": 50, "labelFlush": false, "format": "d", "gridDash": [25, 23], "gridWidth": 2.5, "titleY": 109, "titleBaseline": "top"}}
  },
  "layer": [
   {"mark": {"type": "area", "color": "#FF0000", "interpolate": "step"},
    "encoding": {"y": {"field": "r1", "type": "quantitative", "scale": {"domain": [-0.2, 0.2], "nice": false, "zero": false},
       "axis": {"values": [-0.2, -0.1, 0, 0.1, 0.2], "title": "Angle [mRad]", "labelPadding": 39, "labelExpr": "datum.value == 0 ? '0' : (datum.value < 0 ? '-' + format(-datum.value, '.1f') : format(datum.value, '.1f'))", "gridDash": [25, 23], "gridWidth": 2.5, "titleX": -186, "titleBaseline": "alphabetic"}},
     "y2": {"field": "r0"}}},
   {"mark": {"type": "area", "color": "#FFFF00", "interpolate": "step"},
    "encoding": {"y": {"field": "y1", "type": "quantitative"}, "y2": {"field": "y0"}}},
   {"mark": {"type": "area", "color": "#00FF00", "interpolate": "step"},
    "encoding": {"y": {"field": "g1", "type": "quantitative"}, "y2": {"field": "g0"}}},
   {"mark": {"type": "area", "color": "#00FFFF", "interpolate": "step"},
    "encoding": {"y": {"field": "c1", "type": "quantitative"}, "y2": {"field": "c0"}}},
   {"mark": {"type": "area", "color": "#0000FF", "interpolate": "step"},
    "encoding": {"y": {"field": "b1", "type": "quantitative"}, "y2": {"field": "b0"}}}
  ]
 }
]
}
